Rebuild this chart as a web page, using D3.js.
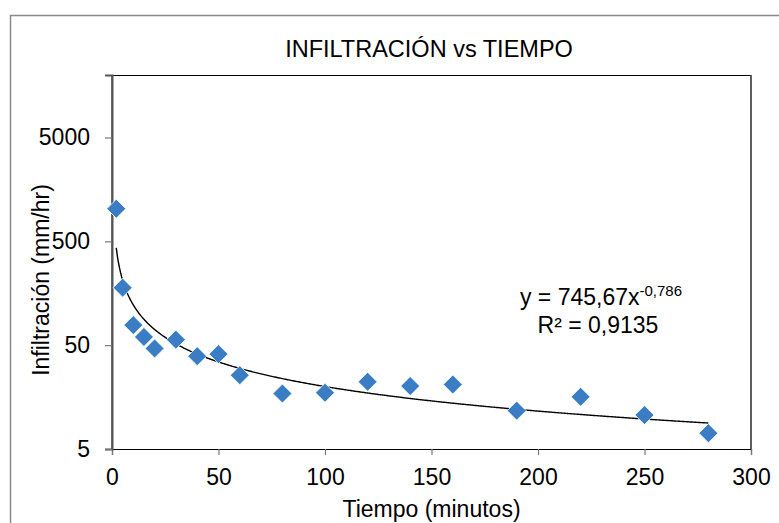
<!DOCTYPE html>
<html>
<head>
<meta charset="utf-8">
<script src="https://cdn.jsdelivr.net/npm/d3@7"></script>
<style>
  html, body { margin: 0; padding: 0; background: #fff; }
  svg { display: block; font-family: "Liberation Sans", Arial, sans-serif; }
</style>
</head>
<body>
<svg id="chart" width="779" height="523"></svg>
<script>
// ---- Data ----
const tiempo = [2, 5, 10, 15, 20, 30, 40, 50, 60, 80, 100, 120, 140, 160, 190, 220, 250, 280];
const infiltracion = [1030, 179, 78, 60, 46.5, 56.5, 39.2, 41, 25.7, 17.1, 17.4, 22.2, 20.2, 20.9, 11.7, 15.9, 10.6, 7.1];
const xTicks = [0, 50, 100, 150, 200, 250, 300];
const yTicks = [5, 50, 500, 5000];
const fitCoef = 745.67;
const fitExp = -0.786;
const titleText = "INFILTRACIÓN vs TIEMPO";
const xTitle = "Tiempo (minutos)";
const yTitle = "Infiltración (mm/hr)";
const eqMain = "y = 745,67x";
const eqSup = "-0,786";
const r2Text = "R² = 0,9135";

// ---- Layout ----
const svg = d3.select("#chart");
const L = 112, R = 751, T = 75, B = 449;
const fs = 23;

const x = d3.scaleLinear().domain([0, 300]).range([L, R]);
const y = d3.scaleLog().domain([5, 20000]).range([B, T]);

// outer chart frame (cropped on right/bottom)
svg.append("rect").attr("x", 10.5).attr("y", 15.5).attr("width", 900).attr("height", 900)
  .attr("fill", "none").attr("stroke", "#8a8a8a").attr("stroke-width", 1.5);

// plot area border
svg.append("rect").attr("x", L).attr("y", T + 0.5).attr("width", R - L).attr("height", B - T)
  .attr("fill", "none").attr("stroke", "#000").attr("stroke-width", 1);
svg.append("line").attr("x1", R).attr("x2", R).attr("y1", T).attr("y2", B)
  .attr("stroke", "#555").attr("stroke-width", 1.5);

// x axis
const xAxis = d3.axisBottom(x).tickValues(xTicks).tickSize(6).tickPadding(14).tickFormat(d3.format("d"));
const gx = svg.append("g").attr("transform", `translate(0,${B})`).call(xAxis);
gx.select(".domain").attr("stroke", "#000").attr("stroke-width", 1.2);
gx.selectAll(".tick line").attr("stroke", "#777").attr("stroke-width", 1.2);
gx.selectAll(".tick text").attr("font-size", fs).attr("font-family", "Liberation Sans, Arial, sans-serif").attr("fill", "#000");

// y axis
const yAxis = d3.axisLeft(y).tickValues(yTicks).tickSize(7).tickPadding(15).tickFormat(d3.format("d"));
const gy = svg.append("g").attr("transform", `translate(${L},0)`).call(yAxis);
gy.select(".domain").attr("stroke", "#555").attr("stroke-width", 2);
gy.selectAll(".tick line").attr("stroke", "#777").attr("stroke-width", 1.2);
gy.selectAll(".tick text").attr("font-size", fs).attr("font-family", "Liberation Sans, Arial, sans-serif").attr("fill", "#000");

// trendline (power fit from the chart's equation)
const xs = d3.range(2, 280.01, 0.5);
const line = d3.line().x(d => x(d)).y(d => y(fitCoef * Math.pow(d, fitExp)));
svg.append("path").datum(xs).attr("d", line).attr("fill", "none")
  .attr("stroke", "#000").attr("stroke-width", 1.4);

// markers (diamonds)
const h = 9.5;
svg.append("g").selectAll("path").data(tiempo.map((t, i) => [t, infiltracion[i]])).join("path")
  .attr("d", d => {
    const cx = x(d[0]), cy = y(d[1]);
    return `M${cx},${cy - h}L${cx + h},${cy}L${cx},${cy + h}L${cx - h},${cy}Z`;
  })
  .attr("fill", "#3a7dc4").attr("stroke", "#fff").attr("stroke-width", 0.8);

// title
svg.append("text").attr("x", 429).attr("y", 57).attr("text-anchor", "middle")
  .attr("font-size", 23.5).attr("fill", "#000").text(titleText);

// axis titles
svg.append("text").attr("x", (L + R) / 2).attr("y", 517).attr("text-anchor", "middle")
  .attr("font-size", fs).attr("fill", "#000").text(xTitle);
svg.append("text").attr("transform", `translate(49,280) rotate(-90)`).attr("text-anchor", "middle")
  .attr("font-size", fs).attr("fill", "#000").text(yTitle);

// equation
const eq = svg.append("text").attr("x", 601).attr("y", 305).attr("text-anchor", "middle")
  .attr("font-size", fs).attr("fill", "#000");
eq.append("tspan").text(eqMain);
eq.append("tspan").attr("font-size", 15).attr("dy", -9).text(eqSup);
svg.append("text").attr("x", 598).attr("y", 333).attr("text-anchor", "middle")
  .attr("font-size", fs).attr("fill", "#000").text(r2Text);
</script>
</body>
</html>
